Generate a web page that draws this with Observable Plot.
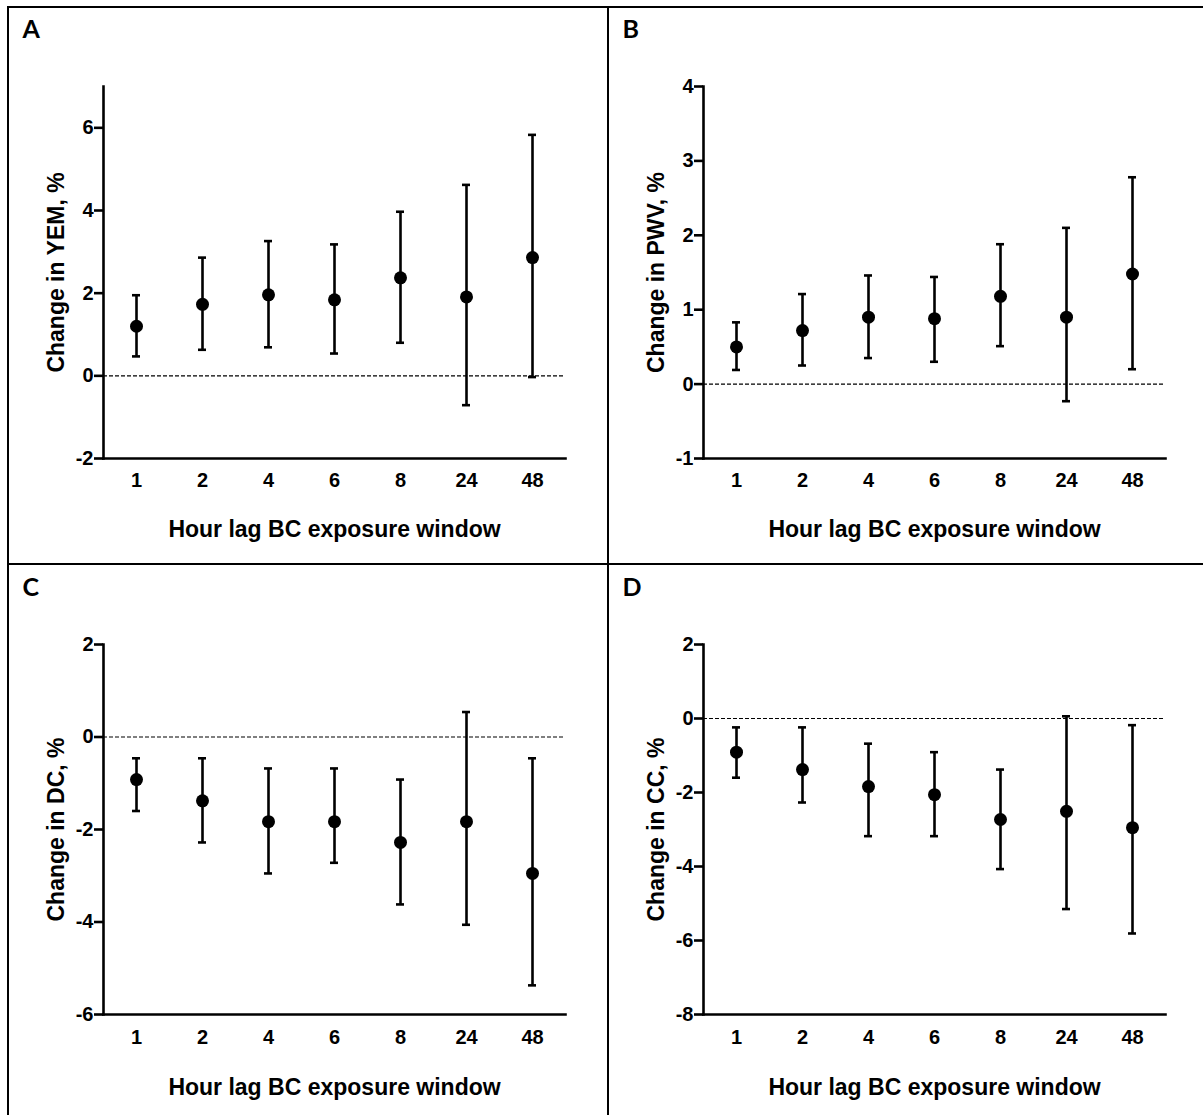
<!DOCTYPE html>
<html>
<head>
<meta charset="utf-8">
<script src="https://cdn.jsdelivr.net/npm/d3@7"></script>
<script src="https://cdn.jsdelivr.net/npm/@observablehq/plot@0.6"></script>
<style>
  html, body { margin: 0; padding: 0; background: #fff; }
  #fig { position: relative; width: 1203px; height: 1115px; overflow: hidden; background: #fff; }
  .panel { position: absolute; }
  .line { position: absolute; background: #000; }
</style>
</head>
<body>
<div id="fig"></div>
<script>
// ---- data ----
const lags = ["1", "2", "4", "6", "8", "24", "48"];
const xTitle = "Hour lag BC exposure window";

const yemEst  = [1.20, 1.73, 1.96, 1.84, 2.37, 1.91, 2.86];
const yemLow  = [0.47, 0.63, 0.69, 0.54, 0.80, -0.71, -0.03];
const yemHigh = [1.95, 2.86, 3.26, 3.18, 3.97, 4.62, 5.83];
const yemTicks = [-2, 0, 2, 4, 6];

const pwvEst  = [0.50, 0.72, 0.90, 0.88, 1.18, 0.90, 1.48];
const pwvLow  = [0.19, 0.25, 0.35, 0.30, 0.51, -0.23, 0.20];
const pwvHigh = [0.83, 1.21, 1.46, 1.44, 1.88, 2.10, 2.78];
const pwvTicks = [-1, 0, 1, 2, 3, 4];

const dcEst  = [-0.92, -1.38, -1.83, -1.83, -2.28, -1.83, -2.95];
const dcLow  = [-1.60, -2.28, -2.95, -2.72, -3.62, -4.06, -5.37];
const dcHigh = [-0.46, -0.46, -0.68, -0.68, -0.92, 0.54, -0.46];
const dcTicks = [-6, -4, -2, 0, 2];

const ccEst  = [-0.91, -1.38, -1.84, -2.06, -2.73, -2.51, -2.95];
const ccLow  = [-1.60, -2.27, -3.18, -3.18, -4.07, -5.15, -5.81];
const ccHigh = [-0.24, -0.24, -0.68, -0.91, -1.38, 0.06, -0.18];
const ccTicks = [-8, -6, -4, -2, 0, 2];

const panels = [
  {letter: "A", label: "Change in YEM, %", est: yemEst, low: yemLow, high: yemHigh, domain: [-2, 7], ticks: yemTicks, left: 0, top: 0, row: 0},
  {letter: "B", label: "Change in PWV, %", est: pwvEst, low: pwvLow, high: pwvHigh, domain: [-1, 4], ticks: pwvTicks, left: 600, top: 0, row: 0},
  {letter: "C", label: "Change in DC, %", est: dcEst, low: dcLow, high: dcHigh, domain: [-6, 2], ticks: dcTicks, left: 0, top: 556, row: 1},
  {letter: "D", label: "Change in CC, %", est: ccEst, low: ccLow, high: ccHigh, domain: [-8, 2], ticks: ccTicks, left: 600, top: 556, row: 1}
];

const fig = document.getElementById("fig");
const SW = 2.6;
const capInset = 29; // band is 66px wide → cap of ~8px

for (const p of panels) {
  const data = lags.map((lag, i) => ({lag, est: p.est[i], low: p.low[i], high: p.high[i]}));
  const mt = p.row === 0 ? 86 : 88;
  const tickPad = p.row === 0 ? 14 : 15;
  const titleDy = p.row === 0 ? 71 : 73;
  const chart = Plot.plot({
    width: 600,
    height: 560,
    marginLeft: 103,
    marginRight: 35,
    marginTop: mt,
    marginBottom: 102,
    style: {
      fontFamily: "Arial, 'Liberation Sans', Helvetica, sans-serif",
      fontWeight: "bold",
      background: "transparent",
      overflow: "visible",
      color: "#000"
    },
    x: {type: "band", domain: lags, padding: 0},
    y: {domain: p.domain},
    marks: [
      Plot.ruleY([0], {stroke: "#000", strokeWidth: 1.2, strokeDasharray: "4,2"}),
      Plot.frame({anchor: "left", stroke: "#000", strokeWidth: SW}),
      Plot.frame({anchor: "bottom", stroke: "#000", strokeWidth: SW}),
      Plot.axisY(p.ticks, {anchor: "left", tickSize: 9, tickPadding: 1, fontSize: 20, strokeWidth: SW, label: null, fill: "#000", tickFormat: d => String(d)}),
      Plot.axisX({anchor: "bottom", tickSize: 0, tickPadding: tickPad, fontSize: 20, label: null, tickFormat: d => d, fill: "#000"}),
      Plot.ruleX(data, {x: "lag", y1: "low", y2: "high", stroke: "#000", strokeWidth: SW}),
      Plot.tickY(data, {x: "lag", y: "low", insetLeft: capInset, insetRight: capInset, stroke: "#000", strokeWidth: SW}),
      Plot.tickY(data, {x: "lag", y: "high", insetLeft: capInset, insetRight: capInset, stroke: "#000", strokeWidth: SW}),
      Plot.dot(data, {x: "lag", y: "est", r: 6.5, fill: "#000", stroke: "none"}),
      Plot.text([p.label], {frameAnchor: "left", dx: -47, rotate: -90, fontSize: 23, textAnchor: "middle", lineAnchor: "middle", fill: "#000"}),
      Plot.text([xTitle], {frameAnchor: "bottom", dy: titleDy, fontSize: 23, textAnchor: "middle", lineAnchor: "middle", fill: "#000"}),
      Plot.text([p.letter], {frameAnchor: "top-left", dx: -81, dy: -48.5, fontSize: 25, fontFamily: "Lato, 'Open Sans', sans-serif", fontWeight: "bold", textAnchor: "start", lineAnchor: "bottom", fill: "#000"})
    ]
  });
  chart.classList.add("panel");
  chart.style.left = p.left + "px";
  chart.style.top = p.top + "px";
  fig.appendChild(chart);
}

// panel borders
function line(l, t, w, h) {
  const d = document.createElement("div");
  d.className = "line";
  d.style.left = l + "px"; d.style.top = t + "px";
  d.style.width = w + "px"; d.style.height = h + "px";
  fig.appendChild(d);
}
line(6.5, 6, 2.2, 1115);      // left border
line(6.5, 6, 1203, 2.2);      // top border
line(606.7, 6, 2.2, 1115);    // vertical divider
line(6.5, 562.5, 1203, 2.2);  // horizontal divider
</script>
</body>
</html>
